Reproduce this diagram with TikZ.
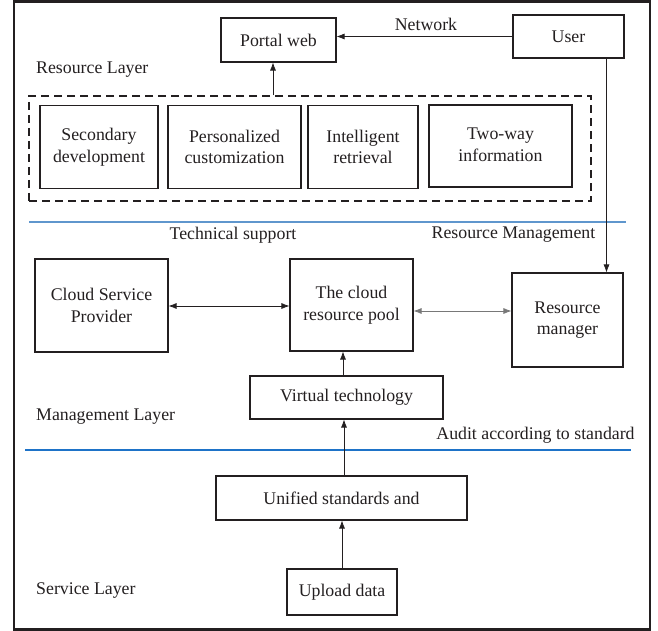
\documentclass[tikz,border=0pt]{standalone}
\usepackage{fontspec}
\setmainfont{Liberation Serif}
\usetikzlibrary{arrows.meta}
\definecolor{ink}{RGB}{35,31,32}
\definecolor{greyline}{RGB}{120,120,120}
\definecolor{blueA}{RGB}{95,150,205}
\definecolor{blueB}{RGB}{30,115,200}
\begin{document}
\begin{tikzpicture}[x=1pt,y=-1pt,
  font=\fontsize{17.8}{21.5}\selectfont, text=ink,
  box/.style={draw=ink, line width=1.1pt, align=center, inner sep=0pt},
  lbl/.style={inner sep=0pt, anchor=west},
  arr/.style={draw=ink, line width=0.7pt, -{Latex[length=8pt,width=6pt]}},
  darr/.style={draw=ink, line width=0.7pt, {Latex[length=8pt,width=6pt]}-{Latex[length=8pt,width=6pt]}},
  sepline/.style={line width=1.4pt}]
\useasboundingbox (0,0) rectangle (658,631);
% outer frame
\draw[line width=2.5pt, draw=ink] (14,1.5) rectangle (650,629.5);

% top part
\node[box, minimum width=115pt, minimum height=44pt] (portal) at (278.5,40) {Portal web};
\node[box, minimum width=111pt, minimum height=43pt] (user) at (568.5,36.5) {User};
\node[inner sep=0pt] (network) at (426,24) {Network};
\node[lbl] (reslayer) at (36,70) {Resource Layer};

\node[draw=ink, line width=1.3pt, dash pattern=on 8pt off 5pt, minimum width=562pt, minimum height=105pt, inner sep=0pt] (res) at (310,148.5) {};
\node[box, minimum width=118pt, minimum height=83pt] (sec) at (99,147) {Secondary\\development};
\node[box, minimum width=133pt, minimum height=83pt] (pers) at (234.5,147) {Personalized\\customization};
\node[box, minimum width=110pt, minimum height=83pt] (intel) at (363,147) {Intelligent\\retrieval};
\node[box, minimum width=143pt, minimum height=82pt] (two) at (500.5,146) {\raisebox{4pt}{\begin{tabular}{@{}c@{}}Two-way\\information\end{tabular}}};

\draw[arr] (user.west) -- (user.west -| portal.east);
\draw[arr] (res.north -| 273,0) -- (portal.south -| 273,0);

% separator 1
\draw[sepline, draw=blueA] (29,222) -- (626,222);
\node[inner sep=0pt] (tech) at (233,235) {Technical support};
\node[inner sep=0pt] (resman) at (513.5,235) {Resource Management};

% middle part
\node[box, minimum width=133pt, minimum height=93pt] (csp) at (101.5,305.5) {Cloud Service\\Provider};
\node[box, minimum width=123pt, minimum height=92pt] (pool) at (351.5,305) {The cloud\\resource pool};
\node[box, minimum width=111pt, minimum height=94pt] (rm) at (567.5,320) {Resource\\manager};
\node[box, minimum width=193pt, minimum height=43pt] (virt) at (346.5,397.5) {Virtual technology};
\node[lbl] (mlayer) at (36,417) {Management Layer};
\node[inner sep=0pt] (audit) at (535.5,435) {Audit according to standard};

\draw[darr] (csp.east |- 0,306) -- (pool.west |- 0,306);
\draw[darr, draw=greyline] (pool.east |- 0,311) -- (rm.west |- 0,311);
\draw[arr] (user.south -| 606.5,0) -- (rm.north -| 606.5,0);
\draw[arr] (virt.north -| 343,0) -- (pool.south -| 343,0);

% separator 2
\draw[sepline, draw=blueB] (25,450) -- (631,450);

% bottom part
\node[box, minimum width=251pt, minimum height=44pt] (unified) at (341.5,498) {Unified standards and};
\node[box, minimum width=110pt, minimum height=46pt] (upload) at (342,592) {Upload data};
\node[lbl] (slayer) at (36,591) {Service Layer};

\draw[arr] (unified.north -| 344,0) -- (virt.south -| 344,0);
\draw[arr] (upload.north -| 342,0) -- (unified.south -| 342,0);
\end{tikzpicture}
\end{document}
